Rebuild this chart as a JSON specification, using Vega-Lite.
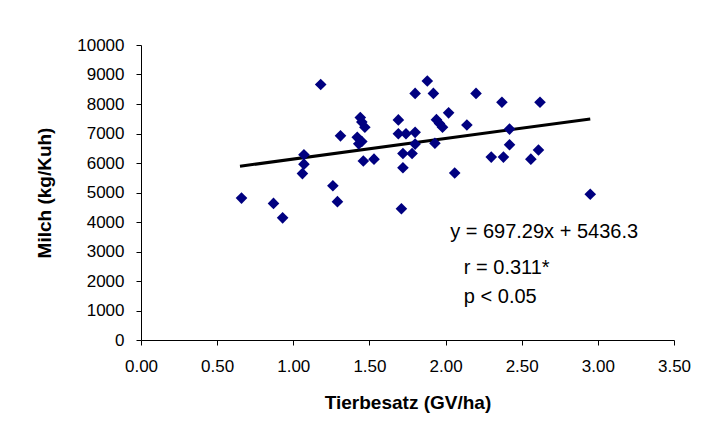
{
  "$schema": "https://vega.github.io/schema/vega-lite/v6.json",
  "width": 533,
  "height": 295,
  "autosize": {"type": "none"},
  "padding": {"left": 141, "top": 45, "right": 32, "bottom": 101},
  "background": "white",
  "config": {
    "view": {"stroke": null},
    "font": "Liberation Sans",
    "axis": {
      "labelFont": "Liberation Sans",
      "labelFontSize": 17,
      "labelColor": "#000000",
      "labelOverlap": false,
      "labelFlush": false,
      "domainColor": "#000000",
      "tickColor": "#000000",
      "tickSize": 5,
      "grid": false,
      "titleFont": "Liberation Sans",
      "titleFontSize": 19,
      "titleFontWeight": "bold",
      "titleColor": "#000000"
    }
  },
  "datasets": {
    "points": [
      {"Tierbesatz": 0.66, "Milch": 4810},
      {"Tierbesatz": 0.87, "Milch": 4630},
      {"Tierbesatz": 0.93, "Milch": 4140},
      {"Tierbesatz": 1.18, "Milch": 8660},
      {"Tierbesatz": 1.07, "Milch": 6280},
      {"Tierbesatz": 1.07, "Milch": 5960},
      {"Tierbesatz": 1.06, "Milch": 5640},
      {"Tierbesatz": 1.26, "Milch": 5230},
      {"Tierbesatz": 1.29, "Milch": 4690},
      {"Tierbesatz": 1.31, "Milch": 6920},
      {"Tierbesatz": 1.44, "Milch": 7540},
      {"Tierbesatz": 1.45, "Milch": 7390},
      {"Tierbesatz": 1.47, "Milch": 7210},
      {"Tierbesatz": 1.42, "Milch": 6870},
      {"Tierbesatz": 1.45, "Milch": 6730},
      {"Tierbesatz": 1.43, "Milch": 6650},
      {"Tierbesatz": 1.46, "Milch": 6070},
      {"Tierbesatz": 1.53, "Milch": 6130},
      {"Tierbesatz": 1.69, "Milch": 7460},
      {"Tierbesatz": 1.69, "Milch": 6990},
      {"Tierbesatz": 1.74, "Milch": 6990},
      {"Tierbesatz": 1.80, "Milch": 7040},
      {"Tierbesatz": 1.72, "Milch": 6320},
      {"Tierbesatz": 1.78, "Milch": 6320},
      {"Tierbesatz": 1.80, "Milch": 6640},
      {"Tierbesatz": 1.72, "Milch": 5840},
      {"Tierbesatz": 1.71, "Milch": 4450},
      {"Tierbesatz": 1.80, "Milch": 8360},
      {"Tierbesatz": 1.88, "Milch": 8780},
      {"Tierbesatz": 1.92, "Milch": 8360},
      {"Tierbesatz": 1.94, "Milch": 7470},
      {"Tierbesatz": 1.96, "Milch": 7340},
      {"Tierbesatz": 1.98, "Milch": 7210},
      {"Tierbesatz": 1.93, "Milch": 6670},
      {"Tierbesatz": 2.02, "Milch": 7700},
      {"Tierbesatz": 2.06, "Milch": 5660},
      {"Tierbesatz": 2.14, "Milch": 7290},
      {"Tierbesatz": 2.20, "Milch": 8360},
      {"Tierbesatz": 2.30, "Milch": 6200},
      {"Tierbesatz": 2.38, "Milch": 6200},
      {"Tierbesatz": 2.37, "Milch": 8060},
      {"Tierbesatz": 2.42, "Milch": 7150},
      {"Tierbesatz": 2.42, "Milch": 6620},
      {"Tierbesatz": 2.56, "Milch": 6130},
      {"Tierbesatz": 2.61, "Milch": 6440},
      {"Tierbesatz": 2.62, "Milch": 8060},
      {"Tierbesatz": 2.95, "Milch": 4940}
    ],
    "trend": [
      {"Tierbesatz": 0.65, "Milch": 5889.5},
      {"Tierbesatz": 2.95, "Milch": 7493.3}
    ],
    "notes": [
      {"x": 2.03, "y": 3446, "label": "y = 697.29x + 5436.3"},
      {"x": 2.12, "y": 2245, "label": "r = 0.311*"},
      {"x": 2.12, "y": 1248, "label": "p < 0.05"}
    ]
  },
  "layer": [
    {
      "data": {"name": "trend"},
      "mark": {"type": "line", "color": "#000000", "strokeWidth": 3},
      "encoding": {
        "x": {
          "field": "Tierbesatz", "type": "quantitative",
          "scale": {"domain": [0, 3.5], "nice": false, "zero": false},
          "axis": {
            "title": "Tierbesatz (GV/ha)",
            "values": [0, 0.5, 1, 1.5, 2, 2.5, 3, 3.5],
            "format": ".2f",
            "labelOverlap": false,
            "labelFlush": false,
            "labelPadding": 13,
            "titlePadding": 19
          }
        },
        "y": {
          "field": "Milch", "type": "quantitative",
          "scale": {"domain": [0, 10000], "nice": false},
          "axis": {
            "title": "Milch (kg/Kuh)",
            "tickCount": 10,
            "format": "d",
            "labelOverlap": false,
            "labelSeparation": 0,
            "labelPadding": 12,
            "titlePadding": 22
          }
        }
      }
    },
    {
      "data": {"name": "points"},
      "mark": {"type": "point", "shape": "diamond", "filled": true, "color": "#000080", "opacity": 1, "size": 135},
      "encoding": {
        "x": {"field": "Tierbesatz", "type": "quantitative"},
        "y": {"field": "Milch", "type": "quantitative"}
      }
    },
    {
      "data": {"name": "notes"},
      "mark": {"type": "text", "align": "left", "baseline": "alphabetic", "fontSize": 20, "font": "Liberation Sans", "color": "#000000"},
      "encoding": {
        "x": {"field": "x", "type": "quantitative"},
        "y": {"field": "y", "type": "quantitative"},
        "text": {"field": "label", "type": "nominal"}
      }
    }
  ]
}
